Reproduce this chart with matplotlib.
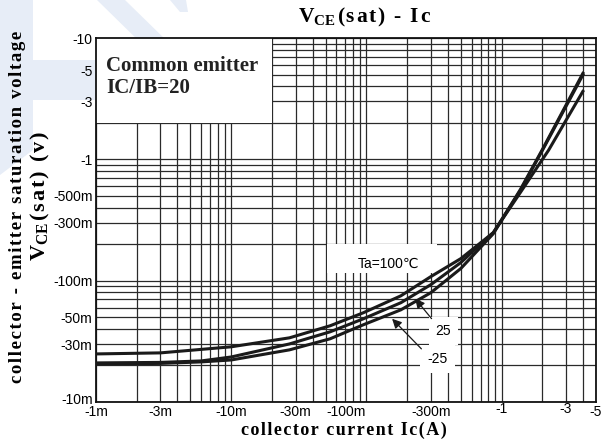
import matplotlib
matplotlib.use('Agg')
import matplotlib.pyplot as plt
import matplotlib.transforms as mtransforms
from matplotlib.patches import Rectangle, Polygon
from matplotlib.ticker import LogLocator, FixedLocator, FixedFormatter, NullFormatter

# |Ic| (A) and |Vce(sat)| (V), per ambient temperature
ic_100 = [1e-3, 3e-3, 10e-3, 27e-3, 54e-3, 95e-3, 180e-3, 300e-3, 500e-3, 0.87, 1.38, 2.23, 4.05]
vce_100 = [24.9e-3, 25.4e-3, 28.5e-3, 33.8e-3, 42.5e-3, 54.4e-3, 75e-3, 108e-3, 152e-3, 0.249, 0.534, 1.19, 3.72]

ic_25 = [1e-3, 3e-3, 6e-3, 10e-3, 27e-3, 54e-3, 95e-3, 180e-3, 300e-3, 500e-3, 0.87, 1.38, 2.01, 4.05]
vce_25 = [21.0e-3, 21.2e-3, 21.8e-3, 23.5e-3, 30.1e-3, 37.9e-3, 48.5e-3, 65.8e-3, 92.7e-3, 141e-3, 0.249, 0.555, 1.19, 5.1]

ic_m25 = [1e-3, 3e-3, 6e-3, 10e-3, 27e-3, 54e-3, 95e-3, 180e-3, 300e-3, 500e-3, 0.87, 1.38, 2.01, 4.05]
vce_m25 = [20.6e-3, 20.8e-3, 21.4e-3, 22.2e-3, 26.9e-3, 33.2e-3, 43.3e-3, 57.5e-3, 79.6e-3, 126e-3, 0.244, 0.565, 1.21, 5.25]

xticks = [1e-3, 3e-3, 1e-2, 3e-2, 0.1, 0.3, 1, 3, 5]
xticklabels = ['-1m', '-3m', '-10m', '-30m', '-100m', '-300m', '-1', '-3', '-5']
yticks = [1e-2, 3e-2, 5e-2, 0.1, 0.3, 0.5, 1, 3, 5, 10]
yticklabels = ['-10m', '-30m', '-50m', '-100m', '-300m', '-500m', '-1', '-3', '-5', '-10']

W, H = 604, 444
serif = ['Liberation Serif', 'DejaVu Serif']
sans = ['Liberation Sans', 'DejaVu Sans']
HAIR = '\u200a'


def spaced(s):
    # the datasheet lettering is set with wide tracking
    return HAIR.join(s)


def nudge(lab, dx_px, dy_px):
    lab.set_transform(lab.get_transform() +
                      mtransforms.ScaledTranslation(dx_px / 100, dy_px / 100, fig.dpi_scale_trans))


fig = plt.figure(figsize=(W / 100, H / 100), dpi=100)
fig.patch.set_facecolor('white')

# faint blue watermark in the background (pixel coords -> figure fraction)
wm = '#e7edf7'
for poly in [
    [(0, 0), (33, 0), (33, 150), (0, 175)],
    [(33, 60), (100, 60), (100, 100), (33, 100)],
    [(97, 0), (125, 0), (168, 42), (146, 48)],
    [(170, 0), (186, 0), (188, 12), (180, 12)],
]:
    pts = [(x / W, 1 - y / H) for x, y in poly]
    fig.patches.append(Polygon(pts, closed=True, transform=fig.transFigure,
                               facecolor=wm, edgecolor='none', zorder=-5))

ax = fig.add_axes([96 / W, 42 / H, 500 / W, 364 / H])
ax.set_facecolor('none')
ax.set_xscale('log')
ax.set_yscale('log')
ax.set_xlim(1e-3, 5)
ax.set_ylim(1e-2, 10)

# grid: every 1..9 step of each decade
ax.xaxis.set_major_locator(LogLocator(base=10, subs=range(1, 10), numticks=50))
ax.yaxis.set_major_locator(LogLocator(base=10, subs=range(1, 10), numticks=50))
ax.xaxis.set_major_formatter(NullFormatter())
ax.yaxis.set_major_formatter(NullFormatter())
ax.grid(True, which='major', color='#2a2a2a', lw=0.9)
ax.tick_params(which='both', length=0)

# labelled ticks on the minor axis (kept even where they meet grid lines)
ax.xaxis.remove_overlapping_locs = False
ax.yaxis.remove_overlapping_locs = False
ax.xaxis.set_minor_locator(FixedLocator(xticks))
ax.xaxis.set_minor_formatter(FixedFormatter(xticklabels))
ax.yaxis.set_minor_locator(FixedLocator(yticks))
ax.yaxis.set_minor_formatter(FixedFormatter(yticklabels))
ax.tick_params(which='minor', labelsize=10, pad=2.5, colors='black')
for lab in ax.get_xticklabels(minor=True) + ax.get_yticklabels(minor=True):
    lab.set_fontfamily(sans)
# a few labels sit off their lines in the original
for lab in ax.get_xticklabels(minor=True):
    if lab.get_text() == '-100m':
        nudge(lab, -20, 0)
    elif lab.get_text() in ('-1', '-3'):
        nudge(lab, 0, 3)
for lab in ax.get_yticklabels(minor=True):
    if lab.get_text() == '-10m':
        nudge(lab, 0, 4)
    elif lab.get_text() == '-5':
        nudge(lab, 0, 4)

for sp in ax.spines.values():
    sp.set_linewidth(1.3)
    sp.set_color('#111111')

# white panels behind the condition text and the temperature label
ax.add_patch(Rectangle((1e-3, 2), 20e-3 - 1e-3, 8, facecolor='white',
                       edgecolor='none', zorder=2))
ax.add_patch(Rectangle((0.0514, 0.1164), 0.336 - 0.0514, 0.202 - 0.1164,
                       facecolor='white', edgecolor='none', zorder=2))

ax.plot(ic_100, vce_100, color='#1a1a1a', lw=2.2, zorder=3, solid_capstyle='butt')
ax.plot(ic_25, vce_25, color='#1a1a1a', lw=2.2, zorder=3, solid_capstyle='butt')
ax.plot(ic_m25, vce_m25, color='#1a1a1a', lw=2.2, zorder=3, solid_capstyle='butt')

box = dict(facecolor='white', edgecolor='none', pad=5)
ax.text(0.145, 0.138, 'Ta=100\u2103', family=sans, fontsize=10,
        ha='center', va='center', zorder=4)
ax.text(0.372, 0.0386, '25', family=sans, fontsize=10, ha='center', va='center',
        zorder=4, bbox=box)
ax.text(0.336, 0.0227, '-25', family=sans, fontsize=10, ha='center', va='center',
        zorder=4, bbox=box)
arrow = dict(arrowstyle='-|>', color='#1a1a1a', lw=0.9, mutation_scale=14)
ax.annotate('', xy=(0.223, 0.074), xytext=(0.313, 0.0467), arrowprops=arrow, zorder=5)
ax.annotate('', xy=(0.150, 0.0504), xytext=(0.264, 0.0264), arrowprops=arrow, zorder=5)

fig.text(106 / W, 1 - 77 / H, 'Common emitter\nIC/IB=20', family=serif, weight='bold',
         fontsize=15, ha='left', va='center', linespacing=1.1, color='#222222')

fig.text(365 / W, 1 - 17 / H, r'V$_{\mathregular{CE}}$' + HAIR + spaced('(sat) - Ic'),
         family=serif, weight='bold', fontsize=15.5, ha='center', va='center')
fig.text(344 / W, 1 - 430 / H, spaced('collector current Ic(A)'), family=serif,
         weight='bold', fontsize=13, ha='center', va='center')
fig.text(18 / W, 1 - 207 / H, spaced('collector - emitter saturation voltage'),
         family=serif, weight='bold', fontsize=13.5, ha='center', va='center',
         rotation=90)
fig.text(40 / W, 1 - 196 / H, r'V$_{\mathregular{CE}}$' + HAIR + spaced('(sat) (v)'),
         family=serif, weight='bold', fontsize=16, ha='center', va='center',
         rotation=90)

fig.savefig('out.png', dpi=100)
